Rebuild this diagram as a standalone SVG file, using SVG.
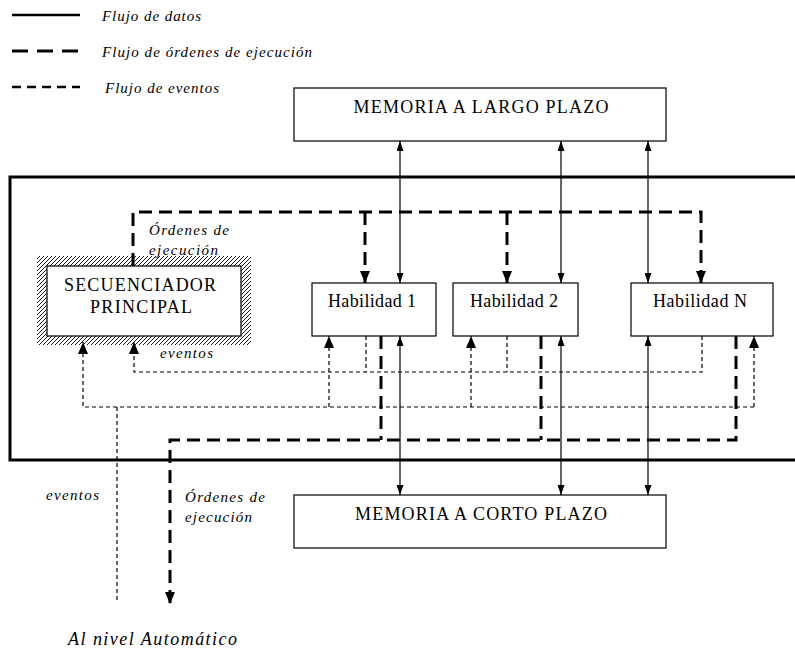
<svg xmlns="http://www.w3.org/2000/svg" width="795" height="650" viewBox="0 0 795 650">
<style>
.box{fill:#fff;stroke:#000;stroke-width:1.2}
.lbl{font-family:'Liberation Serif','Noto Serif','DejaVu Serif','Tinos','FreeSerif','Times New Roman',Times,serif;font-size:18px;fill:#000;text-anchor:middle}
.it{font-family:'Liberation Serif','Noto Serif','DejaVu Serif','Tinos','FreeSerif','Times New Roman',Times,serif;font-style:italic;font-size:15px;fill:#000}
.data{fill:none;stroke:#000;stroke-width:1.2}
.ord{fill:none;stroke:#000;stroke-width:3;stroke-dasharray:13 7}
.ev{fill:none;stroke:#000;stroke-width:1.2;stroke-dasharray:4 3}
</style>
<defs>
<marker id="big" viewBox="0 0 12 10" refX="12" refY="5" markerWidth="12" markerHeight="10" markerUnits="userSpaceOnUse" orient="auto"><path d="M0,0 L12,5 L0,10 z" fill="#000"/></marker>
<marker id="sm" viewBox="0 0 10 7" refX="10" refY="3.5" markerWidth="10" markerHeight="7" markerUnits="userSpaceOnUse" orient="auto-start-reverse"><path d="M0,0 L10,3.5 L0,7 z" fill="#000"/></marker>
<pattern id="hatch" patternUnits="userSpaceOnUse" width="4" height="4"><path d="M-1,1 l2,-2 M0,4 l4,-4 M3,5 l2,-2" stroke="#000" stroke-width="0.9"/></pattern>
</defs>

<g id="legend">
<line x1="12" y1="15" x2="80" y2="15" stroke="#000" stroke-width="2.5"/>
<line x1="12" y1="51" x2="80" y2="51" stroke="#000" stroke-width="3" stroke-dasharray="16 9"/>
<line x1="12" y1="87" x2="80" y2="87" stroke="#000" stroke-width="2.5" stroke-dasharray="9 6"/>
<text class="it" x="102" y="21" textLength="99">Flujo de datos</text>
<text class="it" x="102" y="57" textLength="210">Flujo de órdenes de ejecución</text>
<text class="it" x="105" y="93" textLength="114">Flujo de eventos</text>
</g>

<g id="container"><rect x="10" y="177" width="800" height="283" fill="none" stroke="#000" stroke-width="3"/></g>

<g id="connectors">
<path class="data" d="M400,141 V283" marker-start="url(#sm)" marker-end="url(#sm)"/>
<path class="data" d="M561,141 V283" marker-start="url(#sm)" marker-end="url(#sm)"/>
<path class="data" d="M648,141 V283" marker-start="url(#sm)" marker-end="url(#sm)"/>
<path class="data" d="M400,336 V495" marker-start="url(#sm)" marker-end="url(#sm)"/>
<path class="data" d="M561,336 V495" marker-start="url(#sm)" marker-end="url(#sm)"/>
<path class="data" d="M648,336 V495" marker-start="url(#sm)" marker-end="url(#sm)"/>
<path class="ord" d="M133,266 V212 H701 V283" marker-end="url(#big)"/>
<path class="ord" d="M365,212 V283" marker-end="url(#big)"/>
<path class="ord" d="M507,212 V283" marker-end="url(#big)"/>
<path class="ord" d="M381,336 V440"/>
<path class="ord" d="M541,336 V440"/>
<path class="ord" d="M736,336 V440 H170 V604" marker-end="url(#big)"/>
<path class="ev" d="M366,336 V372"/>
<path class="ev" d="M507,336 V372"/>
<path class="ev" d="M702,336 V372 H134 V342" marker-end="url(#big)"/>
<path class="ev" d="M754,407 H83 V342" marker-end="url(#big)"/>
<path class="ev" d="M754,407 V336" marker-end="url(#big)"/>
<path class="ev" d="M329,407 V336" marker-end="url(#big)"/>
<path class="ev" d="M471,407 V336" marker-end="url(#big)"/>
<path class="ev" d="M117,407 V601"/>
</g>

<g id="ltm"><rect class="box" x="294" y="88" width="372" height="53"/><text class="lbl" x="481" y="113" textLength="255">MEMORIA A LARGO PLAZO</text></g>
<g id="stm"><rect class="box" x="294" y="495" width="372" height="53"/><text class="lbl" x="481" y="520" textLength="252">MEMORIA A CORTO PLAZO</text></g>
<g id="secuenciador">
<rect x="37" y="256" width="214" height="89" fill="url(#hatch)"/>
<rect class="box" x="47" y="266" width="194" height="70"/>
<text class="lbl" x="140" y="291" textLength="152">SECUENCIADOR</text>
<text class="lbl" x="141" y="313" textLength="102">PRINCIPAL</text>
</g>
<g id="hab1"><rect class="box" x="312" y="283" width="124" height="53"/><text class="lbl" x="372" y="307" textLength="88">Habilidad 1</text></g>
<g id="hab2"><rect class="box" x="453" y="283" width="125" height="53"/><text class="lbl" x="514" y="307" textLength="88">Habilidad 2</text></g>
<g id="habN"><rect class="box" x="631" y="283" width="142" height="53"/><text class="lbl" x="700" y="307" textLength="94">Habilidad N</text></g>

<g id="labels">
<text class="it" x="149" y="235" textLength="80">Órdenes de</text>
<text class="it" x="149" y="255" textLength="69">ejecución</text>
<text class="it" x="160" y="358" textLength="53">eventos</text>
<text class="it" x="46" y="500" textLength="53">eventos</text>
<text class="it" x="185" y="502" textLength="80">Órdenes de</text>
<text class="it" x="185" y="522" textLength="67">ejecución</text>
<text class="it" x="68" y="645" style="font-size:18px" textLength="169">Al nivel Automático</text>
</g>
</svg>
